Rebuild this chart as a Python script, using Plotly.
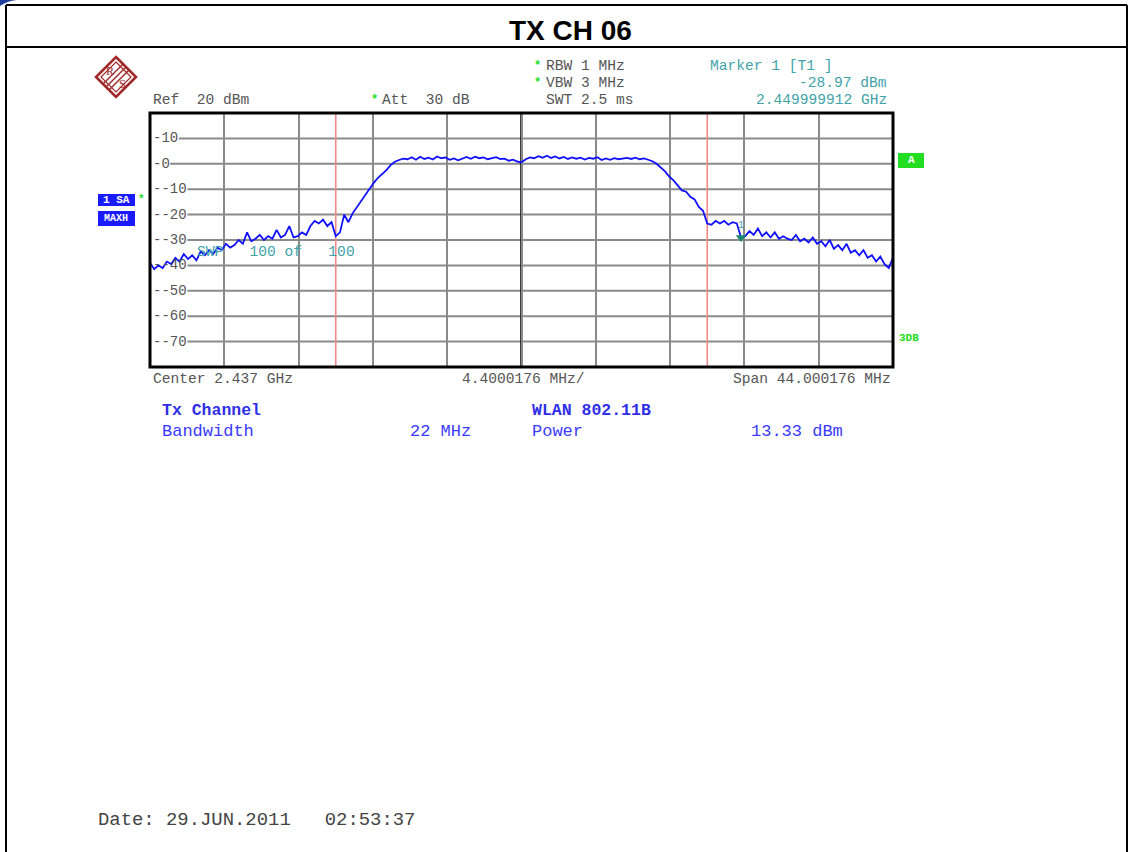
import numpy as np
import plotly.graph_objects as go

# ---------------- data ----------------
CENTER_GHZ = 2.437
SPAN_MHZ = 44.000176
START_GHZ = CENTER_GHZ - 0.022
STOP_GHZ = START_GHZ + SPAN_MHZ / 1000.0
DIV_GHZ = SPAN_MHZ / 10 / 1000.0

# sweep offsets from centre (MHz), 0.25 MHz steps
offsets_mhz = np.arange(-22.0, 22.0 + 0.125, 0.25)

# trace level (dBm)
level_dbm = [
    -39, -41.5, -40, -41, -38.5, -39.5, -37, -38.5, -35.5, -37.5,
    -36, -38, -34.5, -36, -34, -35.5, -33, -34, -31.5, -33,
    -32, -30, -31.5, -27, -30.5, -29.5, -28, -30, -28.5, -29.5,
    -26, -29, -28, -24.5, -29, -28.5, -27, -28, -24.5, -22.5,
    -23.5, -22, -24.5, -23, -28.5, -27, -20, -23, -19.5, -17,
    -15, -12.5, -10, -7.5, -5.5, -4, -2.5, -0.5, 0.8, 1.5,
    2.0, 1.8, 2.6, 1.6, 2.8, 1.9, 2.4, 1.7, 2.9, 2.2,
    2.5, 1.6, 2.1, 1.4, 1.9, 2.7, 2.0, 2.8, 2.2, 2.5,
    1.8, 2.3, 2.6, 1.9, 2.0, 1.2, 1.6, 0.9, 0.6, 1.8,
    2.5, 2.2, 3.0, 2.4, 3.2, 2.3, 2.9, 2.1, 2.7, 1.9,
    2.5, 2.0, 2.4, 1.7, 2.3, 2.0, 2.6, 1.5, 2.1, 1.6,
    2.2, 1.8, 2.0, 2.3, 1.9, 2.4, 1.8, 2.1, 1.6, 1.0,
    0.0, -1.5, -3.0, -5.0, -6.5, -8.5, -10.5, -11, -13, -14,
    -17, -18.5, -23.5, -24, -22.5, -23.5, -22.5, -24, -23, -23.5,
    -29, -28.5, -26.5, -28, -25.5, -28.5, -27, -29, -27, -29.5,
    -28.5, -29.5, -30, -28, -30.5, -29.5, -31, -29, -31.5, -30.5,
    -32.5, -30, -33.5, -32, -34, -31.5, -35, -34, -36, -34,
    -37, -36, -38.5, -36.5, -39.5, -41, -37,
]
assert len(level_dbm) == len(offsets_mhz)
freq_ghz = CENTER_GHZ + offsets_mhz / 1000.0

channel_edges_ghz = [2.426, 2.448]
marker_freq_ghz = [2.449999912]
marker_level_dbm = [-28.97]

y_grid_levels = [10, 0, -10, -20, -30, -40, -50, -60, -70]
y_tick_text = ["-10", "-0", "--10", "--20", "--30", "--40", "--50", "--60", "--70"]

# ---------------- styling helpers ----------------
W, H = 1129, 852
PL, PR, PT, PB = 150, 893, 113, 367
MONO = "Liberation Mono, Courier New, monospace"
GRAY = "#555555"
TEAL = "#3fa3a8"
BLUE_TXT = "#3a3aff"
GREEN = "#22dd22"
GRID = "#8a8a8a"


def px(x):
    return (x - PL) / (PR - PL)


def py(y):
    return (PB - y) / (PB - PT)


annotations = []
shapes = []


def text(x, y, s, color=GRAY, size=14.6, anchor="left", bold=False,
         family=MONO, bg=None):
    if bold:
        s = "<b>" + s + "</b>"
    a = dict(x=px(x), y=py(y), xref="paper", yref="paper", text=s,
             showarrow=False, xanchor=anchor, yanchor="middle",
             font=dict(family=family, size=size, color=color),
             borderpad=0)
    if bg:
        a["bgcolor"] = bg
    annotations.append(a)


def pline(x0, y0, x1, y1, color="black", width=2, layer="above"):
    shapes.append(dict(type="line", xref="paper", yref="paper",
                       x0=px(x0), y0=py(y0), x1=px(x1), y1=py(y1),
                       line=dict(color=color, width=width), layer=layer))


# ---------------- figure ----------------
fig = go.Figure()
fig.add_trace(go.Scatter(x=freq_ghz, y=level_dbm, mode="lines",
                         line=dict(color="#1010ff", width=1.8),
                         hoverinfo="skip"))
fig.add_trace(go.Scatter(x=marker_freq_ghz, y=marker_level_dbm,
                         mode="markers+text", text=["1"],
                         textposition="top center",
                         textfont=dict(family=MONO, size=10, color=TEAL),
                         marker=dict(symbol="triangle-down", size=9,
                                     color="#178a6a"),
                         hoverinfo="skip"))

# page frame
pline(6, 5, 1127, 5, width=2)
pline(6, 47, 1127, 47, width=2)
pline(6, 5, 6, 852, width=2)
pline(1127, 5, 1127, 852, width=2)
shapes.append(dict(type="path", xref="paper", yref="paper",
                   path=f"M {px(0)},{py(6)} Q {px(12)},{py(-2)} {px(30)},{py(0)} L {px(0)},{py(0)} Z",
                   fillcolor="#1f3f9a", line=dict(width=0), layer="above"))

# title
text(570, 31, "TX CH 06", color="black", size=28, anchor="center",
     bold=True, family="Liberation Sans, Arial, sans-serif")

# horizontal grid lines (start after the level labels)
for lvl, lab in zip(y_grid_levels, y_tick_text):
    x_start = 152 + len(lab) * 8.6 + 1
    shapes.append(dict(type="line", xref="paper", yref="y",
                       x0=px(x_start), x1=1, y0=lvl, y1=lvl,
                       line=dict(color=GRID, width=2), layer="between"))
    yy = PB - (lvl + 80) / 100 * (PB - PT)
    text(152, yy, lab, color=GRAY, size=14)

# channel edge lines
for f in channel_edges_ghz:
    shapes.append(dict(type="line", xref="x", yref="paper", x0=f, x1=f,
                       y0=0, y1=1, line=dict(color="#f08a8a", width=1.6),
                       layer="between"))
# centre line
shapes.append(dict(type="line", xref="x", yref="paper", x0=CENTER_GHZ,
                   x1=CENTER_GHZ, y0=0, y1=1,
                   line=dict(color="black", width=2.5), layer="between"))
# plot frame
shapes.append(dict(type="rect", xref="paper", yref="paper", x0=0, x1=1,
                   y0=0, y1=1, line=dict(color="black", width=3),
                   layer="above"))

# R&S logo
cx, cy, r = 116, 77, 20
shapes.append(dict(type="path", xref="paper", yref="paper",
                   path=(f"M {px(cx)},{py(cy - r)} L {px(cx + r)},{py(cy)} "
                         f"L {px(cx)},{py(cy + r)} L {px(cx - r)},{py(cy)} Z"),
                   line=dict(color="#a02828", width=2.6), layer="above"))
r2 = 15
shapes.append(dict(type="path", xref="paper", yref="paper",
                   path=(f"M {px(cx)},{py(cy - r2)} L {px(cx + r2)},{py(cy)} "
                         f"L {px(cx)},{py(cy + r2)} L {px(cx - r2)},{py(cy)} Z"),
                   line=dict(color="#a02828", width=1.2), layer="above"))
for d in (-3, 0, 3):
    pline(cx - 10 + d, cy + 10 + d, cx + 10 + d, cy - 10 + d,
          color="#a02828", width=1.4)
text(cx - 6, cy - 6, "R", color="#a02828", size=12, anchor="center",
     family="Liberation Serif, serif")
text(cx + 6, cy + 7, "S", color="#a02828", size=12, anchor="center",
     family="Liberation Serif, serif")

# header texts
text(152, 100, "Ref  20 dBm")
text(374, 100, "*", color=GREEN, size=12, anchor="center", bold=True)
text(381, 100, "Att  30 dB")
text(537, 66, "*", color=GREEN, size=12, anchor="center", bold=True)
text(545, 66, "RBW 1 MHz")
text(537, 83, "*", color=GREEN, size=12, anchor="center", bold=True)
text(545, 83, "VBW 3 MHz")
text(545, 100, "SWT 2.5 ms")
text(709, 66, "Marker 1 [T1 ]", color=TEAL)
text(888, 83, "-28.97 dBm", color=TEAL, anchor="right")
text(888, 100, "2.449999912 GHz", color=TEAL, anchor="right")

# left / right indicators
shapes.append(dict(type="rect", xref="paper", yref="paper",
                   x0=px(98), x1=px(135), y0=py(206), y1=py(194),
                   fillcolor="#1a1aff", line=dict(width=0), layer="above"))
shapes.append(dict(type="rect", xref="paper", yref="paper",
                   x0=px(98), x1=px(135), y0=py(226), y1=py(211),
                   fillcolor="#1a1aff", line=dict(width=0), layer="above"))
text(116, 200, "1 SA", color="white", size=11, anchor="center", bold=True)
text(116, 218, "MAXH", color="white", size=10, anchor="center", bold=True)
text(141, 199, "*", color=GREEN, size=11, anchor="center", bold=True)
shapes.append(dict(type="rect", xref="paper", yref="paper",
                   x0=px(898), x1=px(924), y0=py(168), y1=py(153),
                   fillcolor=GREEN, line=dict(width=0), layer="above"))
text(911, 160, "A", color="white", size=11, anchor="center", bold=True)
text(898, 338, "3DB", color=GREEN, size=11, bold=True)

# sweep counter
text(196, 252, "SWP   100 of   100", color=TEAL)

# below-axis texts
text(152, 379, "Center 2.437 GHz")
text(523, 379, "4.4000176 MHz/", anchor="center")
text(892, 379, "Span 44.000176 MHz", anchor="right")

text(161, 410, "Tx Channel", color="#2f2fe8", size=16.5, bold=True)
text(531, 410, "WLAN 802.11B", color="#2f2fe8", size=16.5, bold=True)
text(161, 431, "Bandwidth", color=BLUE_TXT, size=17)
text(472, 431, "22 MHz", color=BLUE_TXT, size=17, anchor="right")
text(531, 431, "Power", color=BLUE_TXT, size=17)
text(844, 431, "13.33 dBm", color=BLUE_TXT, size=17, anchor="right")

text(97, 820, "Date: 29.JUN.2011   02:53:37", color="#444444", size=18.9)

fig.update_layout(
    width=W, height=H,
    margin=dict(l=PL, r=W - PR, t=PT, b=H - PB, pad=0),
    paper_bgcolor="white", plot_bgcolor="white",
    showlegend=False,
    xaxis=dict(range=[START_GHZ, STOP_GHZ], showgrid=True, gridcolor=GRID,
               gridwidth=2, tick0=START_GHZ, dtick=DIV_GHZ,
               showticklabels=False, zeroline=False, ticks="",
               showline=False, fixedrange=True),
    yaxis=dict(range=[-80, 20], showgrid=False, showticklabels=False,
               zeroline=False, ticks="", showline=False, fixedrange=True),
    shapes=shapes,
    annotations=annotations,
)

fig.write_html("out.html", config={"displayModeBar": False},
               post_script="document.body.style.margin='0';document.body.style.overflow='hidden';")
